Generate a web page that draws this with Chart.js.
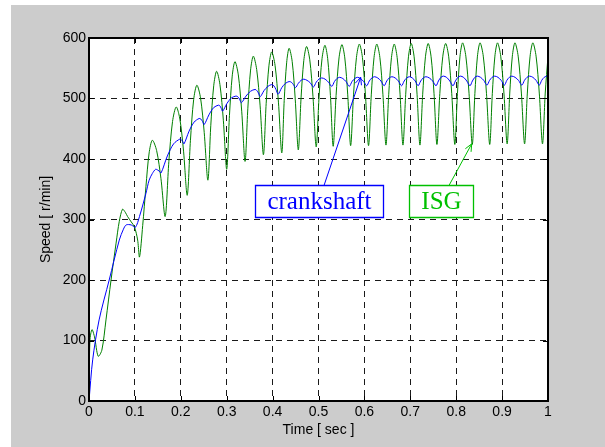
<!DOCTYPE html>
<html>
<head>
<meta charset="utf-8">
<title>Speed response</title>
<script src="https://cdn.jsdelivr.net/npm/chart.js@4.4.0/dist/chart.umd.min.js"></script>
<style>
  html, body { margin: 0; padding: 0; background: #ffffff; }
  #fig { position: absolute; left: 11px; top: 5px; width: 594px; height: 442px; background: #cccccc; }
  canvas { display: block; }
</style>
</head>
<body>
<div id="fig"><canvas id="speed" width="594" height="442"></canvas></div>
<script>
// ISG rotor speed [r/min] against time [s]
const isgTime = [
  0, 0.002, 0.0065, 0.012, 0.020, 0.028, 0.037, 0.048, 0.059, 0.066,
  0.073, 0.079, 0.084, 0.092, 0.099, 0.106, 0.110, 0.117, 0.124, 0.131,
  0.138, 0.1473, 0.1567, 0.166, 0.174, 0.182, 0.190, 0.198, 0.206, 0.214,
  0.221, 0.228, 0.235, 0.243, 0.251, 0.259, 0.2653, 0.2717, 0.278, 0.2853,
  0.2927, 0.300, 0.306, 0.312, 0.318, 0.3253, 0.3327, 0.340, 0.346, 0.352,
  0.358, 0.3653, 0.3727, 0.380, 0.386, 0.392, 0.398, 0.4053, 0.4127, 0.420,
  0.4253, 0.4307, 0.436, 0.4427, 0.4493, 0.456, 0.462, 0.468, 0.474, 0.481,
  0.488, 0.495, 0.5013, 0.5077, 0.514, 0.520, 0.526, 0.532, 0.5383, 0.5447,
  0.551, 0.5573, 0.5637, 0.570, 0.5763, 0.5827, 0.589, 0.5957, 0.6023, 0.609,
  0.615, 0.621, 0.627, 0.6337, 0.6403, 0.647, 0.653, 0.659, 0.665, 0.6713,
  0.6777, 0.684, 0.690, 0.696, 0.702, 0.7083, 0.7147, 0.721, 0.727, 0.733,
  0.739, 0.7453, 0.7517, 0.758, 0.7643, 0.7707, 0.777, 0.7837, 0.7903, 0.797,
  0.8027, 0.8083, 0.814, 0.821, 0.828, 0.835, 0.8407, 0.8463, 0.852, 0.859,
  0.866, 0.873, 0.8787, 0.8843, 0.890, 0.897, 0.904, 0.911, 0.9167, 0.9223,
  0.928, 0.935, 0.942, 0.949, 0.955, 0.961, 0.967, 0.974, 0.981, 0.988,
  0.994, 1.000
];
const isgSpeed = [
  0, 100, 118, 106, 74, 84, 134, 200, 261, 297,
  317, 312, 305, 296, 288, 266, 238, 290, 354, 410,
  431, 414, 368, 305, 396, 462, 486, 466, 413, 340,
  431, 498, 522, 501, 444, 365, 455, 521, 545, 523,
  464, 383, 472, 537, 561, 539, 479, 396, 483, 547,
  570, 548, 489, 407, 492, 554, 577, 555, 494, 410,
  497, 560, 583, 561, 499, 415, 501, 563, 586, 564,
  503, 420, 504, 566, 588, 566, 505, 421, 505, 567,
  589, 567, 506, 422, 506, 568, 590, 568, 506, 422,
  506, 568, 590, 568, 507, 423, 507, 568, 590, 568,
  507, 423, 507, 569, 591, 569, 507, 423, 507, 569,
  591, 569, 508, 424, 508, 569, 591, 569, 508, 424,
  508, 570, 592, 570, 508, 424, 508, 570, 592, 570,
  508, 424, 508, 570, 592, 570, 509, 425, 509, 570,
  592, 570, 509, 425, 509, 570, 592, 570, 509, 425,
  509, 570
];

// Crankshaft speed [r/min] against time [s]
const crankTime = [
  0, 0.008, 0.022, 0.044, 0.066, 0.075, 0.081, 0.092, 0.101, 0.110,
  0.124, 0.131, 0.138, 0.145, 0.149, 0.153, 0.157, 0.1707, 0.1843, 0.198,
  0.201, 0.204, 0.207, 0.218, 0.229, 0.240, 0.2437, 0.2473, 0.251, 0.2613,
  0.2717, 0.282, 0.285, 0.288, 0.291, 0.3007, 0.3103, 0.320, 0.324, 0.328,
  0.332, 0.342, 0.352, 0.362, 0.3657, 0.3693, 0.373, 0.3813, 0.3897, 0.398,
  0.4027, 0.4073, 0.412, 0.420, 0.428, 0.436, 0.4407, 0.4453, 0.450, 0.456,
  0.462, 0.468, 0.475, 0.482, 0.489, 0.495, 0.501, 0.507, 0.5143, 0.5217,
  0.529, 0.5347, 0.5403, 0.546, 0.553, 0.560, 0.567, 0.573, 0.579, 0.585,
  0.5917, 0.5983, 0.605, 0.6107, 0.6163, 0.622, 0.629, 0.636, 0.643, 0.6487,
  0.6543, 0.660, 0.667, 0.674, 0.681, 0.6867, 0.6923, 0.698, 0.7043, 0.7107,
  0.717, 0.7227, 0.7283, 0.734, 0.7413, 0.7487, 0.756, 0.7613, 0.7667, 0.772,
  0.779, 0.786, 0.793, 0.7983, 0.8037, 0.809, 0.816, 0.823, 0.830, 0.8353,
  0.8407, 0.846, 0.853, 0.860, 0.867, 0.8727, 0.8783, 0.884, 0.891, 0.898,
  0.905, 0.9103, 0.9157, 0.921, 0.9283, 0.9357, 0.943, 0.9487, 0.9543, 0.960,
  0.967, 0.974, 0.981, 0.9863, 0.9917, 0.997, 1.000
];
const crankSpeed = [
  0, 68, 134, 200, 266, 284, 291, 291, 287, 305,
  343, 365, 376, 383, 382, 380, 377, 405, 425, 433,
  432, 429, 425, 446, 461, 467, 466, 462, 457, 473,
  485, 489, 488, 484, 479, 492, 501, 504, 503, 499,
  493, 504, 512, 515, 513, 509, 503, 513, 520, 523,
  521, 515, 507, 518, 525, 528, 527, 523, 518, 525,
  530, 532, 530, 526, 519, 527, 532, 534, 532, 527,
  520, 528, 533, 535, 533, 528, 520, 528, 533, 535,
  533, 528, 521, 529, 534, 536, 534, 529, 521, 529,
  534, 536, 534, 529, 521, 529, 534, 536, 534, 529,
  521, 529, 534, 536, 534, 529, 521, 529, 535, 537,
  535, 529, 521, 529, 535, 537, 535, 529, 521, 529,
  535, 537, 535, 530, 522, 530, 535, 537, 535, 530,
  522, 530, 535, 537, 535, 530, 522, 530, 535, 537,
  535, 530, 522, 530, 535, 537, 536
];

// Axis ticks
const timeTicks = [0, 0.1, 0.2, 0.3, 0.4, 0.5, 0.6, 0.7, 0.8, 0.9, 1];
const speedTicks = [0, 100, 200, 300, 400, 500, 600];

// Callout labels
const calloutTexts = ['crankshaft', 'ISG'];

const SANS = '"Liberation Sans", Arial, Helvetica, sans-serif';
const SERIF = '"Liberation Serif", "Times New Roman", Times, serif';
const ISG_COLOR = '#008000';
const CRANK_COLOR = '#0000ff';
const CALLOUT_GREEN = '#00c000';

// Callout geometry in data units: box centre, arrow tail x on the box top, arrow tip
const callouts = [
  { text: calloutTexts[0], color: CRANK_COLOR, center: [0.5004, 330], tailX: 0.512, tip: [0.5919, 535] },
  { text: calloutTexts[1], color: CALLOUT_GREEN, center: [0.7673, 330], tailX: 0.7843, tip: [0.8338, 425] }
];

const toPoints = (ts, vs) => ts.map((t, i) => ({ x: t, y: vs[i] }));

const framePlugin = {
  id: 'frame',
  beforeDraw(chart) {
    const { ctx, chartArea: a } = chart;
    ctx.save();
    ctx.fillStyle = '#ffffff';
    ctx.fillRect(a.left, a.top, a.right - a.left, a.bottom - a.top);
    ctx.restore();
  },
  afterDatasetsDraw(chart) {
    const { ctx, chartArea: a, scales: { x, y } } = chart;
    ctx.save();
    ctx.setLineDash([]);
    // inward tick marks on all four sides
    ctx.strokeStyle = '#000000';
    ctx.lineWidth = 1;
    ctx.beginPath();
    timeTicks.forEach(v => {
      const px = Math.round(x.getPixelForValue(v)) + 0.5;
      ctx.moveTo(px, a.bottom); ctx.lineTo(px, a.bottom - 5);
      ctx.moveTo(px, a.top); ctx.lineTo(px, a.top + 5);
    });
    speedTicks.forEach(v => {
      const py = Math.round(y.getPixelForValue(v)) + 0.5;
      ctx.moveTo(a.left, py); ctx.lineTo(a.left + 5, py);
      ctx.moveTo(a.right, py); ctx.lineTo(a.right - 5, py);
    });
    ctx.stroke();
    // axes box
    ctx.lineWidth = 2;
    ctx.strokeRect(a.left, a.top, a.right - a.left, a.bottom - a.top);

    // callouts: arrow, boxed label
    callouts.forEach(c => {
      ctx.font = '25px ' + SERIF;
      const tw = ctx.measureText(c.text).width;
      const cx = x.getPixelForValue(c.center[0]);
      const cy = y.getPixelForValue(c.center[1]);
      const bw = Math.round(tw + 24), bh = 32;
      const left = Math.round(cx - bw / 2) + 0.5;
      const top = Math.round(cy - bh / 2) + 0.5;
      const sx = x.getPixelForValue(c.tailX), sy = top;
      const tx = x.getPixelForValue(c.tip[0]), ty = y.getPixelForValue(c.tip[1]);
      ctx.strokeStyle = c.color;
      ctx.lineWidth = 1;
      ctx.beginPath();
      ctx.moveTo(sx, sy); ctx.lineTo(tx, ty);
      const ang = Math.atan2(ty - sy, tx - sx);
      const L = 8, spread = 0.42;
      ctx.moveTo(tx - L * Math.cos(ang - spread), ty - L * Math.sin(ang - spread));
      ctx.lineTo(tx, ty);
      ctx.lineTo(tx - L * Math.cos(ang + spread), ty - L * Math.sin(ang + spread));
      ctx.stroke();
      ctx.fillStyle = '#ffffff';
      ctx.fillRect(left, top, bw, bh);
      ctx.strokeStyle = c.color;
      ctx.lineWidth = 1.3;
      ctx.beginPath();
      ctx.rect(left, top, bw, bh);
      ctx.stroke();
      ctx.fillStyle = c.color;
      ctx.textAlign = 'center';
      ctx.textBaseline = 'alphabetic';
      ctx.fillText(c.text, left + bw / 2, top + bh / 2 + 7.5);
    });
    ctx.restore();
  }
};

new Chart(document.getElementById('speed'), {
  type: 'line',
  data: {
    datasets: [
      {
        label: 'crankshaft',
        data: toPoints(crankTime, crankSpeed),
        borderColor: CRANK_COLOR,
        borderWidth: 1,
        pointRadius: 0,
        tension: 0.3,
        fill: false
      },
      {
        label: 'ISG',
        data: toPoints(isgTime, isgSpeed),
        borderColor: ISG_COLOR,
        borderWidth: 1,
        pointRadius: 0,
        tension: 0.3,
        fill: false
      }
    ]
  },
  options: {
    responsive: false,
    animation: false,
    events: [],
    layout: { padding: { left: 0, top: 33, right: 57, bottom: 0 } },
    plugins: { legend: { display: false }, tooltip: { enabled: false } },
    scales: {
      x: {
        type: 'linear',
        min: 0,
        max: 1,
        afterBuildTicks: s => { s.ticks = timeTicks.map(v => ({ value: v })); },
        afterFit: s => { s.height = 46; },
        ticks: {
          color: '#000000',
          font: { family: SANS, size: 14 },
          padding: 3,
          maxRotation: 0,
          autoSkip: false,
          callback: v => String(v)
        },
        grid: { color: '#1a1a1a', lineWidth: 1, drawTicks: false },
        border: { display: false, dash: [6, 5] },
        title: {
          display: true,
          text: 'Time [ sec ]',
          color: '#000000',
          font: { family: SANS, size: 14 },
          padding: { top: 0, bottom: 8 }
        }
      },
      y: {
        type: 'linear',
        min: 0,
        max: 600,
        afterBuildTicks: s => { s.ticks = speedTicks.map(v => ({ value: v })); },
        afterFit: s => { s.width = 78; },
        ticks: {
          color: '#000000',
          font: { family: SANS, size: 14 },
          padding: 3,
          autoSkip: false,
          callback: v => String(v)
        },
        grid: { color: '#1a1a1a', lineWidth: 1, drawTicks: false },
        border: { display: false, dash: [6, 5] },
        title: {
          display: true,
          text: 'Speed [ r/min]',
          color: '#000000',
          font: { family: SANS, size: 14 },
          padding: { top: 27, bottom: 0 }
        }
      }
    }
  },
  plugins: [framePlugin]
});
</script>
</body>
</html>
